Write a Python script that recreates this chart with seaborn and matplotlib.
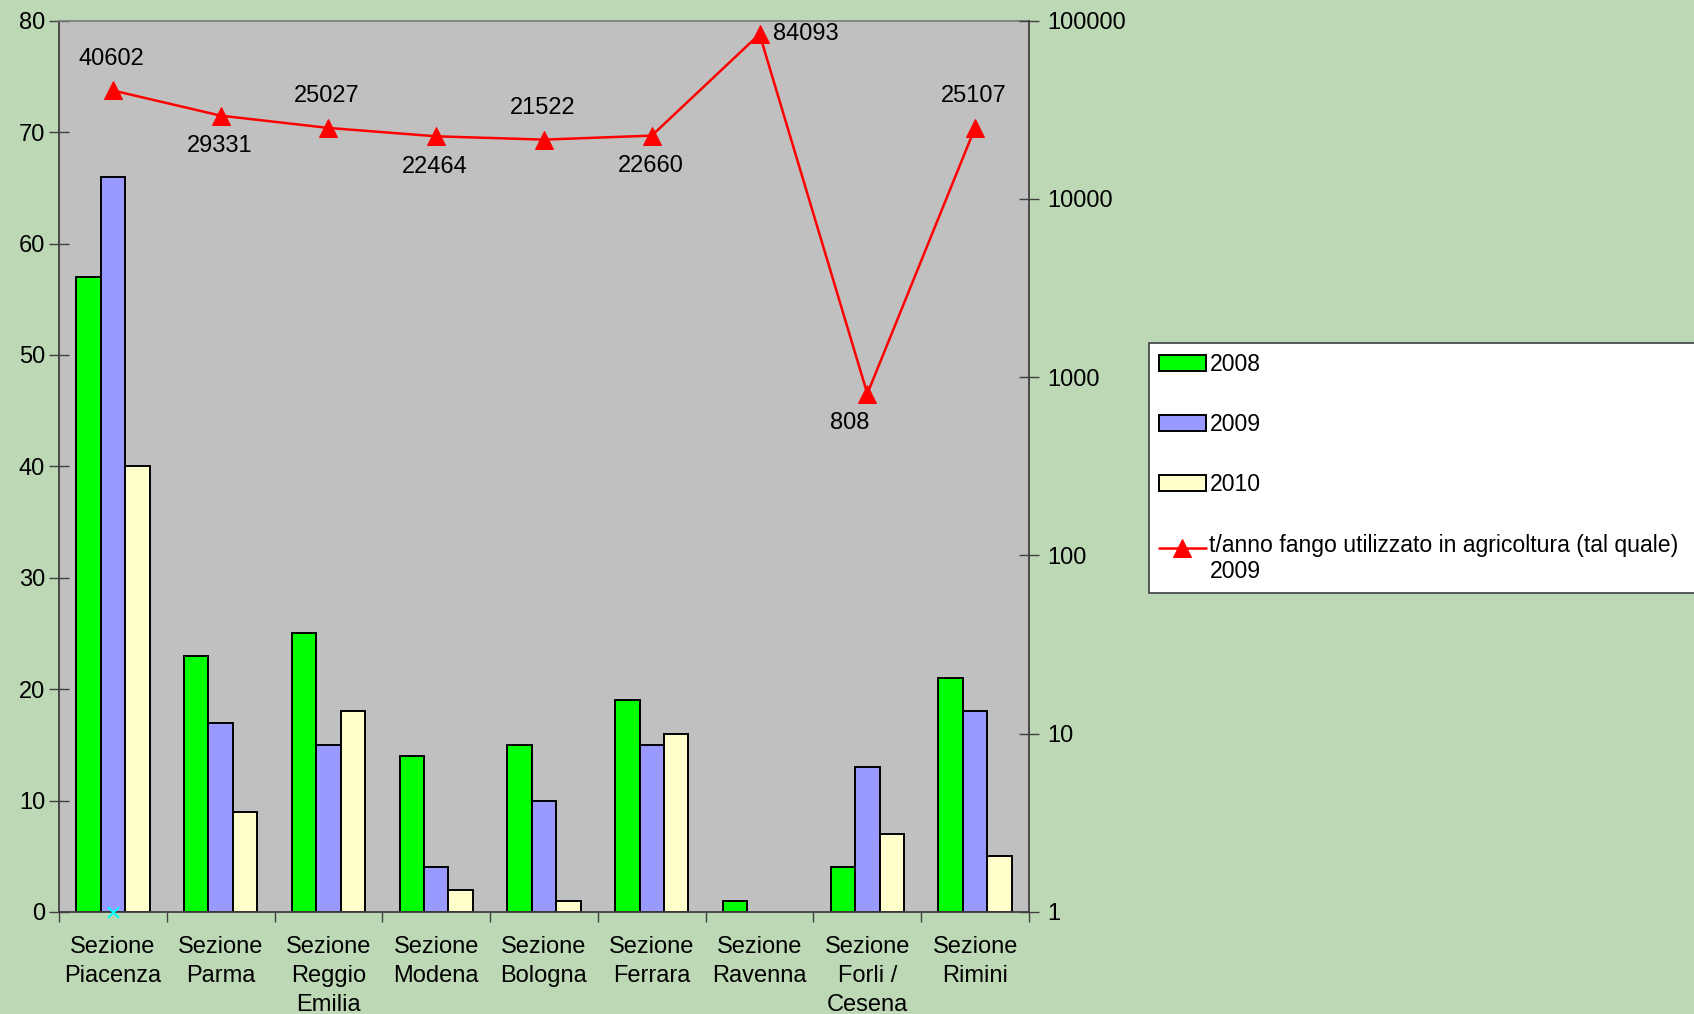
import numpy as np
import pandas as pd
import matplotlib
matplotlib.use("Agg")
import matplotlib.pyplot as plt
import seaborn as sns
from matplotlib.ticker import FixedLocator, FuncFormatter, NullLocator, MultipleLocator
from matplotlib.legend_handler import HandlerLine2D

# ---------------- data ----------------
sezioni = ["Sezione\nPiacenza", "Sezione\nParma", "Sezione\nReggio\nEmilia", "Sezione\nModena",
           "Sezione\nBologna", "Sezione\nFerrara", "Sezione\nRavenna", "Sezione\nForli /\nCesena",
           "Sezione\nRimini"]
anni = ["2008", "2009", "2010"]
v2008 = [57, 23, 25, 14, 15, 19, 1, 4, 21]
v2009 = [66, 17, 15, 4, 10, 15, np.nan, 13, 18]
v2010 = [40, 9, 18, 2, 1, 16, np.nan, 7, 5]
fango_2009 = [40602, 29331, 25027, 22464, 21522, 22660, 84093, 808, 25107]
fango_label = "t/anno fango utilizzato in agricoltura (tal quale)\n2009"
label_pos = ["above", "below", "above", "below", "above", "below", "right", "below", "above"]
serie_nascosta_idx = [0]
serie_nascosta_val = [0]

colori = ["#00FF00", "#9999FF", "#FFFFCC"]

df = pd.DataFrame({
    "sezione": sezioni * 3,
    "anno": sum([[a] * len(sezioni) for a in anni], []),
    "valore": v2008 + v2009 + v2010,
})

# ---------------- style ----------------
sns.set_style("white")
plt.rcParams["font.family"] = ["Liberation Sans", "DejaVu Sans"]
plt.rcParams["font.size"] = 17
plt.rcParams["text.color"] = "black"
plt.rcParams["xtick.labelcolor"] = "black"
plt.rcParams["ytick.labelcolor"] = "black"

FS = 17

fig = plt.figure(figsize=(16.94, 10.14), dpi=100)
fig.patch.set_facecolor("#BDD8B5")

ax = fig.add_axes([59 / 1694, 1 - 912 / 1014, (1029 - 59) / 1694, (912 - 20.7) / 1014])
ax.set_facecolor("#C0C0C0")

sns.barplot(data=df, x="sezione", y="valore", hue="anno", hue_order=anni,
            palette=colori, saturation=1, width=0.68, gap=0,
            edgecolor="black", linewidth=1.4, ax=ax, legend=True, zorder=2)

ax.scatter(serie_nascosta_idx, serie_nascosta_val, marker="x", color="#00FFFF",
           s=60, linewidths=1.5, zorder=5, clip_on=False)

ax.set_xlim(-0.5, len(sezioni) - 0.5)
ax.set_ylim(0, 80)
ax.yaxis.set_major_locator(MultipleLocator(10))
ax.set_xlabel("")
ax.set_ylabel("")
ax.tick_params(axis="y", direction="inout", length=14, width=1, color="#404040",
               labelsize=FS, pad=3, left=True, labelcolor="black")
ax.tick_params(axis="x", which="major", length=0, labelsize=FS, pad=17, labelcolor="black")
ax.xaxis.set_minor_locator(FixedLocator(np.arange(-0.5, len(sezioni), 1.0)))
ax.tick_params(axis="x", which="minor", direction="out", length=7, width=1,
               color="#404040", bottom=True)
for lab in ax.get_xticklabels():
    lab.set_linespacing(1.42)
    lab.set_verticalalignment("top")

for s in ["left", "bottom"]:
    ax.spines[s].set_color("#404040")
    ax.spines[s].set_linewidth(1.3)
ax.spines["top"].set_color("#808080")
ax.spines["top"].set_linewidth(1.3)
ax.spines["right"].set_visible(False)

# ---------------- secondary axis ----------------
ax2 = ax.twinx()
x_pos = np.arange(len(sezioni))
sns.lineplot(x=x_pos, y=fango_2009, ax=ax2, color="red", linewidth=1.8,
             marker="^", markersize=13, markeredgecolor="red", markerfacecolor="red",
             label=fango_label, legend=False)
ax2.set_yscale("log")
ax2.set_ylim(1, 100000)
ax2.set_xlim(-0.5, len(sezioni) - 0.5)
ax2.yaxis.set_major_locator(FixedLocator([1, 10, 100, 1000, 10000, 100000]))
ax2.yaxis.set_minor_locator(NullLocator())
ax2.yaxis.set_major_formatter(FuncFormatter(lambda v, p: f"{int(round(v))}"))
ax2.tick_params(axis="y", direction="inout", length=14, width=1, color="#404040",
                labelsize=FS, pad=6, right=True, labelcolor="black")
ax2.set_ylabel("")
for s in ["left", "bottom", "top"]:
    ax2.spines[s].set_visible(False)
ax2.spines["right"].set_color("#404040")
ax2.spines["right"].set_linewidth(1.3)

for xi, v, pos in zip(x_pos, fango_2009, label_pos):
    if pos == "above":
        off, ha = (-1, 23), "center"
    elif pos == "below":
        off, ha = (-1, -22), "center"
    else:
        off, ha = (10, 0), "left"
    if v == 808:
        off = (-13, -21)
    ax2.annotate(f"{v}", (xi, v), xytext=off, textcoords="offset points",
                 ha=ha, va="center", fontsize=FS, color="black")


# ---------------- legend ----------------
class UpHandler(HandlerLine2D):
    """Align the line handle with the first line of a two-line label."""
    def create_artists(self, legend, orig_handle, xdescent, ydescent, width, height,
                       fontsize, trans):
        return super().create_artists(legend, orig_handle, xdescent, ydescent - 17,
                                      width, height, fontsize, trans)


h1, l1 = ax.get_legend_handles_labels()
h2, l2 = ax2.get_legend_handles_labels()
if ax.get_legend():
    ax.get_legend().remove()
LFS = 16.6
leg = fig.legend(h1 + h2, l1 + l2, loc="upper left",
                 bbox_to_anchor=(1149 / 1694, 1 - 343 / 1014, 0.36, 0.0),
                 mode="expand", handler_map={h2[0]: UpHandler()},
                 frameon=True, fancybox=False, shadow=False, fontsize=LFS,
                 handlelength=2.05, handleheight=0.7, handletextpad=0.15,
                 labelspacing=1.62, borderpad=0.42, borderaxespad=0)
leg.get_frame().set_facecolor("white")
leg.get_frame().set_edgecolor("#404040")
leg.get_frame().set_linewidth(1.2)
leg.get_frame().set_alpha(1)

fig.savefig("out.png", dpi=100, facecolor=fig.get_facecolor())
